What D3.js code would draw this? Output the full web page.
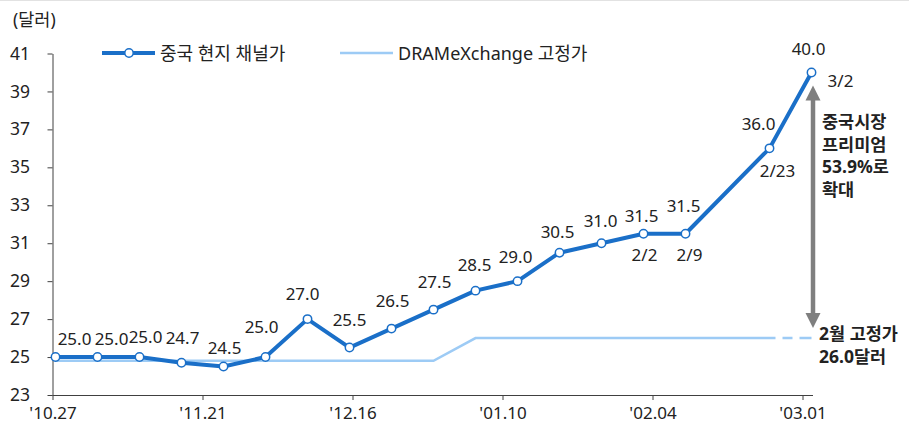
<!DOCTYPE html>
<html>
<head>
<meta charset="utf-8">
<script src="https://cdn.jsdelivr.net/npm/d3@7"></script>
<style>
  body { margin: 0; background: #fff; }
  text { font-family: "Noto Sans", "Noto Sans CJK KR", sans-serif; fill: #222; }
</style>
</head>
<body>
<div id="chart"></div>
<script>
// weekly China spot channel price (2/16 missing in source)
const spotDates = ["2025-10-27","2025-11-03","2025-11-10","2025-11-17","2025-11-24","2025-12-01",
  "2025-12-08","2025-12-15","2025-12-22","2025-12-29","2026-01-05","2026-01-12","2026-01-19",
  "2026-01-26","2026-02-02","2026-02-09","2026-02-23","2026-03-02"]
const spotValues = [25.0,25.0,25.0,24.7,24.5,25.0,27.0,25.5,26.5,27.5,28.5,29.0,30.5,31.0,31.5,31.5,36.0,40.0]
const dateNotes = { 14: "2/2", 15: "2/9", 16: "2/23", 17: "3/2" }

// DRAMeXchange fixed price
const fixedDates = ["2025-10-27","2025-12-29","2026-01-05","2026-02-24"]
const fixedValues = [24.8, 24.8, 26.0, 26.0]
const fixedProjDates = ["2026-02-24","2026-03-02"]
const fixedProjValues = [26.0, 26.0]

const xTickDates = ["2025-10-27","2025-11-21","2025-12-16","2026-01-10","2026-02-04","2026-03-01"]
const yTicks = [23,25,27,29,31,33,35,37,39,41]

const seriesNames = ["중국 현지 채널가", "DRAMeXchange 고정가"]
const premiumNote = ["중국시장", "프리미엄", "53.9%로", "확대"]
const fixedNote = ["2월 고정가", "26.0달러"]

const W = 909, H = 423
const dark = "#1a6fc8", light = "#9dcbf5", gray = "#7f7f7f"
const fs = 17

const parse = s => { const p = s.split("-").map(Number); return new Date(p[0], p[1]-1, p[2]) }
const noon = s => d3.timeHour.offset(parse(s), 12)

const svg = d3.select("#chart").append("svg").attr("width", W).attr("height", H)

svg.append("line").attr("x1", 0).attr("x2", W).attr("y1", 0.5).attr("y2", 0.5)
  .attr("stroke", "#e2e2e2")

const x = d3.scaleTime()
  .domain([parse("2025-10-27"), parse("2026-03-03")])
  .range([52.5, 52.5 + 127 * 6])
const y = d3.scaleLinear().domain([23, 41]).range([395, 53.5])

// axes
const xAxis = svg.append("g").attr("transform", "translate(0,395)")
  .call(d3.axisBottom(x).tickValues(xTickDates.map(parse)).tickSize(5)
    .tickFormat(d3.timeFormat("'%m.%d")).tickSizeOuter(0))
xAxis.select(".domain").attr("d", "M52.5,0.5H813")
xAxis.selectAll("text").attr("font-size", fs).attr("y", 24).attr("dy", 0).attr("fill", "#222")

const yAxis = svg.append("g").attr("transform", "translate(52.5,0)")
  .call(d3.axisLeft(y).tickValues(yTicks).tickSize(5).tickSizeOuter(0).tickPadding(17.5))
yAxis.selectAll("text").attr("font-size", 17.5).attr("fill", "#222")
svg.selectAll(".domain, .tick line").attr("stroke", "#404040")
svg.selectAll(".tick text").style("font-family", '"Noto Sans", "Noto Sans CJK KR", sans-serif')

svg.append("text").attr("x", 13).attr("y", 26).attr("font-size", 17.5).text("(달러)")

// fixed price line
const line = d3.line().x(d => x(d[0])).y(d => y(d[1]))
svg.append("path")
  .datum(fixedDates.map((d, i) => [noon(d), fixedValues[i]]))
  .attr("d", line).attr("fill", "none").attr("stroke", light).attr("stroke-width", 2.5)
svg.append("path")
  .datum(fixedProjDates.map((d, i) => [noon(d), fixedProjValues[i]]))
  .attr("d", line).attr("fill", "none").attr("stroke", light).attr("stroke-width", 2.5)
  .attr("stroke-dasharray", "0 7 10 7 10")

// spot line
const spot = spotDates.map((d, i) => [noon(d), spotValues[i]])
svg.append("path").datum(spot).attr("d", line)
  .attr("fill", "none").attr("stroke", dark).attr("stroke-width", 4).attr("stroke-linejoin", "round")
svg.selectAll(".pt").data(spot).enter().append("circle")
  .attr("cx", d => x(d[0])).attr("cy", d => y(d[1])).attr("r", 4.2)
  .attr("fill", "#fff").attr("stroke", dark).attr("stroke-width", 1.5)

// value label nudges [dx, dy of baseline from point]
const nudge = { 0: [19, -12], 1: [14, -12], 2: [6, -14], 3: [1, -19], 4: [1, -13], 5: [-4, -24],
  6: [-5, -19], 8: [1, -22], 9: [1, -22], 10: [-1, -20], 11: [-2, -18], 12: [-2, -15],
  13: [-1, -16], 14: [-2, -12], 15: [-2, -22], 16: [-11, -18], 17: [-3, -17] }
svg.selectAll(".val").data(spot).enter().append("text")
  .attr("x", (d, i) => x(d[0]) + (nudge[i] || [0, -22])[0])
  .attr("y", (d, i) => y(d[1]) + (nudge[i] || [0, -22])[1])
  .attr("text-anchor", "middle").attr("font-size", fs).attr("fill", "#333")
  .text(d => d[1].toFixed(1))

const noteOff = { 14: [1, 27], 15: [4, 27], 16: [8, 29], 17: [29, 15] }
Object.keys(dateNotes).forEach(k => {
  const d = spot[k]
  svg.append("text").attr("x", x(d[0]) + noteOff[k][0]).attr("y", y(d[1]) + noteOff[k][1])
    .attr("text-anchor", "middle").attr("font-size", fs).attr("fill", "#333").text(dateNotes[k])
})

// premium arrow
const ax = x(noon("2026-03-02")) + 1.5
const arrowTop = y(40) + 13, arrowBot = y(26) - 10
svg.append("line").attr("x1", ax).attr("x2", ax).attr("y1", arrowTop + 14).attr("y2", arrowBot - 14)
  .attr("stroke", gray).attr("stroke-width", 4.5)
svg.append("path").attr("fill", gray)
  .attr("d", `M${ax},${arrowTop}L${ax - 7.5},${arrowTop + 15}L${ax + 7.5},${arrowTop + 15}Z`)
svg.append("path").attr("fill", gray)
  .attr("d", `M${ax},${arrowBot}L${ax - 7.5},${arrowBot - 15}L${ax + 7.5},${arrowBot - 15}Z`)

svg.append("g").selectAll("text").data(premiumNote).enter().append("text")
  .attr("x", 822).attr("y", (d, i) => 128 + i * 22.5)
  .attr("font-size", 17.5).attr("font-weight", "bold").attr("fill", "#111").text(d => d)
svg.append("g").selectAll("text").data(fixedNote).enter().append("text")
  .attr("x", 819).attr("y", (d, i) => 340 + i * 22.5)
  .attr("font-size", 17.5).attr("font-weight", "bold").attr("fill", "#111").text(d => d)

// legend
const lg = svg.append("g")
lg.append("line").attr("x1", 102).attr("x2", 155).attr("y1", 53).attr("y2", 53)
  .attr("stroke", dark).attr("stroke-width", 4)
lg.append("circle").attr("cx", 129).attr("cy", 53).attr("r", 4.2)
  .attr("fill", "#fff").attr("stroke", dark).attr("stroke-width", 1.5)
lg.append("text").attr("x", 160).attr("y", 60).attr("font-size", 18).text(seriesNames[0])
lg.append("line").attr("x1", 340).attr("x2", 393).attr("y1", 53).attr("y2", 53)
  .attr("stroke", light).attr("stroke-width", 2.5)
lg.append("text").attr("x", 398).attr("y", 60).attr("font-size", 18).text(seriesNames[1])
</script>
</body>
</html>
